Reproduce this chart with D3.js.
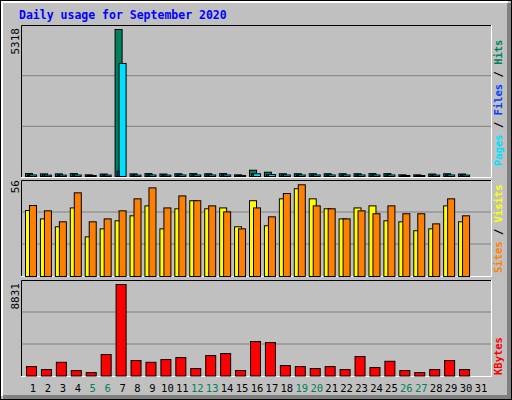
<!DOCTYPE html>
<html>
<head>
<meta charset="utf-8">
<script src="https://cdn.jsdelivr.net/npm/d3@7"></script>
<style>
  body { margin: 0; background: #fff; }
  text { font-family: "DejaVu Sans Mono", monospace; }
</style>
</head>
<body>
<svg id="chart" width="512" height="400"></svg>
<script>
const days = d3.range(1, 32)
const weekends = [5, 6, 12, 13, 19, 20, 26, 27]

// top panel
const hits = [108, 95, 95, 105, 60, 90, 5318, 95, 105, 90, 100, 105, 100, 105, 60, 227, 155, 100, 100, 100, 100, 100, 100, 105, 105, 60, 60, 90, 100, 90]
const files = [60, 55, 55, 60, 30, 55, 190, 55, 60, 55, 60, 60, 60, 60, 30, 108, 75, 60, 60, 60, 60, 60, 60, 60, 60, 30, 30, 55, 60, 55]
const pages = [55, 50, 50, 55, 25, 50, 4090, 50, 55, 50, 55, 55, 55, 55, 25, 100, 70, 55, 55, 55, 55, 55, 55, 55, 55, 25, 25, 50, 55, 50]

// middle panel
const visits = [38.5, 33.6, 29, 40, 23.1, 27.8, 32.5, 35.4, 41.2, 27.8, 39.5, 44.2, 39.5, 40, 29, 44.2, 29.6, 45.3, 51.2, 45.3, 39.5, 33.6, 40, 41.2, 32.5, 31.9, 26.7, 27.8, 41.2, 31.9]
const sites = [41.4, 38.3, 31.9, 48.8, 31.9, 33.6, 38.3, 45.3, 51.7, 40, 47, 44.2, 41.2, 37.7, 27.8, 40, 34.8, 48.4, 53.5, 41.2, 39.5, 33.6, 38.3, 36.6, 41.2, 36.6, 36.6, 30.7, 45.3, 35.4]

// bottom panel
const kbytes = [908, 618, 1324, 522, 328, 2068, 8831, 1488, 1324, 1585, 1778, 715, 1971, 2164, 522, 3324, 3227, 1005, 908, 715, 908, 618, 1874, 812, 1420, 522, 328, 618, 1488, 618]

const svg = d3.select('#chart')

// frame
svg.append('rect').attr('x', 0).attr('y', 0).attr('width', 512).attr('height', 400).attr('fill', '#000')
svg.append('rect').attr('x', 1).attr('y', 1).attr('width', 510).attr('height', 398).attr('fill', '#c0c0c0')
svg.append('path').attr('d', 'M2,396V2H508').attr('stroke', '#fff').attr('stroke-width', 2).attr('fill', 'none')
svg.append('path').attr('d', 'M3,397H509V3').attr('stroke', '#808080').attr('stroke-width', 4).attr('fill', 'none')

svg.append('text').attr('x', 19).attr('y', 19)
    .attr('fill', '#0000ff').attr('font-size', 11.5).attr('font-weight', 'bold')
    .text('Daily usage for September 2020')

const x = d3.scaleLinear().domain([1, 31]).range([33, 481])

function panel(top, bottom) {
    const g = svg.append('g')
    g.append('rect').attr('x', 21).attr('y', top).attr('width', 470).attr('height', bottom - top).attr('fill', '#c0c0c0')
    g.append('path').attr('d', `M21.5,${bottom}V${top + 0.5}H491`).attr('stroke', '#000').attr('fill', 'none')
    g.append('path').attr('d', `M21,${bottom + 0.5}H491.5V${top}`).attr('stroke', '#fff').attr('fill', 'none')
    return g
}

function grid(g, top, bottom) {
    const h = bottom - top
    ;[1, 2].forEach(i => {
        g.append('line').attr('x1', 22).attr('x2', 491)
            .attr('y1', top + h * i / 3).attr('y2', top + h * i / 3)
            .attr('stroke', '#808080')
    })
}

function bars(g, data, y, off, w, color) {
    g.selectAll(null).data(data).enter().append('rect')
        .attr('x', (d, i) => x(i + 1) + off + 0.5)
        .attr('y', d => Math.min(y(d), y(0) - 1) + 0.5)
        .attr('width', w)
        .attr('height', d => Math.max(1, y(0) - y(d)))
        .attr('fill', color).attr('stroke', '#000')
}

function leftLabel(text, cx, cy) {
    svg.append('text').attr('transform', `translate(${cx},${cy}) rotate(-90)`)
        .attr('text-anchor', 'end').attr('font-size', 11).attr('font-family', 'DejaVu Sans')
        .attr('fill', '#000').text(text)
}

function rightLabel(parts, cx, cy) {
    const t = svg.append('text').attr('transform', `translate(${cx},${cy}) rotate(-90)`)
        .attr('text-anchor', 'start').attr('font-size', 10.5).attr('font-weight', 'bold')
    parts.forEach(p => t.append('tspan').attr('fill', p[1]).text(p[0]))
}

// top
const g1 = panel(25, 177)
grid(g1, 25, 177)
const y1 = d3.scaleLinear().domain([0, 5318]).range([176, 29])
bars(g1, hits, y1, -8, 7, '#00805c')
bars(g1, pages, y1, -4, 7, '#00e0ff')
bars(g1, files, y1, -6, 2, '#0040ff')
leftLabel('5318', 19, 28)
rightLabel([['Pages', '#00e0ff'], [' / ', '#000'], ['Files', '#0040ff'], [' / ', '#000'], ['Hits', '#00805c']], 502, 166)

// middle
const g2 = panel(180, 276)
grid(g2, 180, 276)
const y2 = d3.scaleLinear().domain([0, 56]).range([276, 180])
bars(g2, visits, y2, -8, 7, '#ffff00')
bars(g2, sites, y2, -4, 7, '#ff8000')
leftLabel('56', 19, 180)
rightLabel([['Sites', '#ff8000'], [' / ', '#000'], ['Visits', '#ffff00']], 502, 273)

// bottom
const g3 = panel(280, 376)
grid(g3, 280, 376)
const y3 = d3.scaleLinear().domain([0, 8831]).range([375.5, 284])
bars(g3, kbytes, y3, -7, 10, '#ff0000')
leftLabel('8831', 19, 283)
rightLabel([['KBytes', '#ff0000']], 502, 375)

// day labels
svg.selectAll('.day').data(days).enter().append('text')
    .attr('x', d => x(d)).attr('y', 392)
    .attr('text-anchor', 'middle').attr('font-size', 10.5).attr('font-family', 'DejaVu Sans')
    .attr('fill', d => weekends.includes(d) ? '#00805c' : '#000')
    .text(d => d)
</script>
</body>
</html>
